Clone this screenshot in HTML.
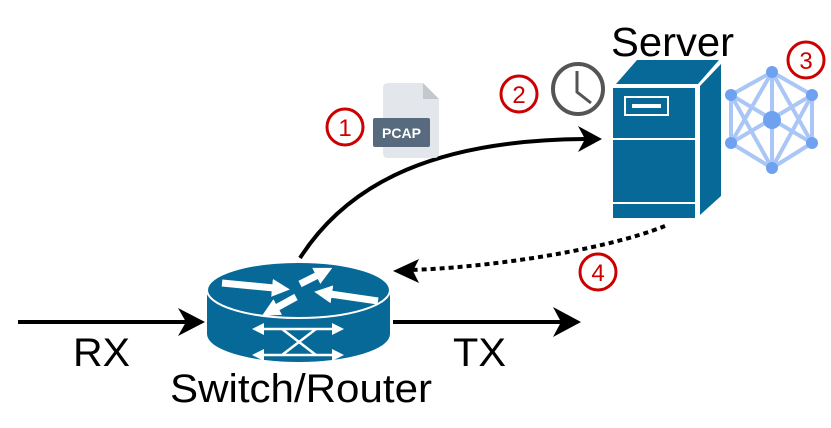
<!DOCTYPE html>
<html><head><style>
html,body{margin:0;padding:0;background:#fff;}
svg{display:block;}
text{font-family:"Liberation Sans",sans-serif;}
</style></head><body>
<svg width="831" height="428" viewBox="0 0 831 428" xmlns="http://www.w3.org/2000/svg">
<defs>
<marker id="wh" markerWidth="20" markerHeight="20" refX="2" refY="10" orient="auto" markerUnits="userSpaceOnUse" viewBox="0 0 20 20">
<polygon points="0,1 18,10 0,19" fill="#fff"/>
</marker>
</defs>
<!-- RX arrow -->
<line x1="18" y1="322" x2="190" y2="322" stroke="#000" stroke-width="4"/>
<polygon points="205,322 178,308 186,322 178,336" fill="#000"/>
<!-- TX arrow -->
<line x1="393" y1="322" x2="565" y2="322" stroke="#000" stroke-width="4"/>
<polygon points="581,322 553,307 561,322 553,337" fill="#000"/>
<text x="73" y="366" font-size="40" textLength="57" lengthAdjust="spacingAndGlyphs">RX</text>
<text x="453" y="366" font-size="40" textLength="53" lengthAdjust="spacingAndGlyphs">TX</text>
<text x="170" y="402" font-size="40" textLength="262" lengthAdjust="spacingAndGlyphs">Switch/Router</text>
<text x="611" y="56" font-size="41" textLength="123" lengthAdjust="spacingAndGlyphs">Server</text>
<!-- curve -->
<path d="M300,258 C350,180 440,140 585,139" fill="none" stroke="#000" stroke-width="4"/>
<polygon points="602,139 578,126 585,139 578,152" fill="#000"/>
<!-- dotted -->
<path d="M665,226 C600,252 480,268 410,270" fill="none" stroke="#000" stroke-width="4" stroke-dasharray="5,4"/>
<polygon points="393,271 419,259 413,271 419,283" fill="#000"/>
<!-- router -->
<path d="M207,290 L207,334 A91.5,28 0 0 0 390,334 L390,290 Z" fill="#066998"/>
<ellipse cx="298.5" cy="290" rx="91.5" ry="28" fill="#066998" stroke="#fff" stroke-width="2"/>
<g stroke="#fff" stroke-width="7" fill="none">
<line x1="222" y1="283" x2="274" y2="288" marker-end="url(#wh)"/>
<line x1="300" y1="284" x2="318" y2="275" marker-end="url(#wh)"/>
<line x1="296" y1="297" x2="276" y2="308" marker-end="url(#wh)"/>
<line x1="378" y1="301" x2="330" y2="294" marker-end="url(#wh)"/>
</g>
<g stroke="#fff" stroke-width="2.5" fill="none">
<line x1="258" y1="329" x2="338" y2="329"/>
<line x1="258" y1="355" x2="338" y2="355"/>
<line x1="282" y1="329" x2="316" y2="355"/>
<line x1="316" y1="329" x2="282" y2="355"/>
</g>
<g fill="#fff">
<polygon points="252,329 264,323 264,335"/><polygon points="344,329 332,323 332,335"/>
<polygon points="252,355 264,349 264,361"/><polygon points="344,355 332,349 332,361"/>
</g>
<!-- PCAP file -->
<path d="M388,83 L423,83 L439,99 L439,153 Q439,158 434,158 L388,158 Q383,158 383,153 L383,88 Q383,83 388,83 Z" fill="#e3e6ea"/>
<polygon points="423,83 439,99 423,99" fill="#c3c8cf"/>
<rect x="373" y="118" width="57" height="29" rx="2" fill="#576a7e"/>
<text x="401.5" y="138" font-size="14" fill="#fff" text-anchor="middle" font-weight="bold">PCAP</text>
<!-- numbered circles -->
<g fill="none" stroke="#c00" stroke-width="3">
<circle cx="345" cy="127" r="18"/>
<circle cx="519" cy="94" r="18"/>
<circle cx="806" cy="60" r="18"/>
<circle cx="598" cy="272" r="18"/>
</g>
<g fill="#c00" font-size="24" text-anchor="middle">
<text x="345" y="136">1</text>
<text x="519" y="103">2</text>
<text x="806" y="69">3</text>
<text x="598" y="281">4</text>
</g>
<!-- clock -->
<circle cx="578" cy="89" r="25" fill="none" stroke="#555" stroke-width="4"/>
<polyline points="577,71 577,92 591,103" fill="none" stroke="#555" stroke-width="3"/>
<!-- server -->
<polygon points="616,84 637,60 719,60 698,84" fill="#066998"/>
<polygon points="700,86 721,64 721,196 700,215" fill="#066998"/>
<rect x="613" y="88" width="82" height="50" fill="#066998"/>
<rect x="613" y="140" width="82" height="62" fill="#066998"/>
<rect x="613" y="204" width="82" height="14" fill="#066998"/>
<rect x="625" y="97" width="43" height="18" fill="none" stroke="#fff" stroke-width="2"/>
<rect x="632" y="104" width="29" height="4" fill="#fff"/>
<!-- network -->
<g stroke="#a9c6f7" stroke-width="4">
<line x1="772" y1="72" x2="812" y2="95"/><line x1="812" y1="95" x2="812" y2="143"/>
<line x1="812" y1="143" x2="772" y2="168"/><line x1="772" y1="168" x2="731" y2="143"/>
<line x1="731" y1="143" x2="731" y2="95"/><line x1="731" y1="95" x2="772" y2="72"/>
<line x1="772" y1="72" x2="812" y2="143"/><line x1="772" y1="72" x2="731" y2="143"/>
<line x1="731" y1="95" x2="812" y2="143"/><line x1="812" y1="95" x2="731" y2="143"/>
<line x1="731" y1="95" x2="772" y2="168"/><line x1="812" y1="95" x2="772" y2="168"/>
<line x1="772" y1="72" x2="772" y2="168"/>
</g>
<g fill="#6ea2f0">
<circle cx="772" cy="72" r="6"/><circle cx="812" cy="95" r="6"/><circle cx="812" cy="143" r="6"/>
<circle cx="772" cy="168" r="6"/><circle cx="731" cy="143" r="6"/><circle cx="731" cy="95" r="6"/>
<circle cx="772" cy="120" r="9"/>
</g>
</svg>
</body></html>
